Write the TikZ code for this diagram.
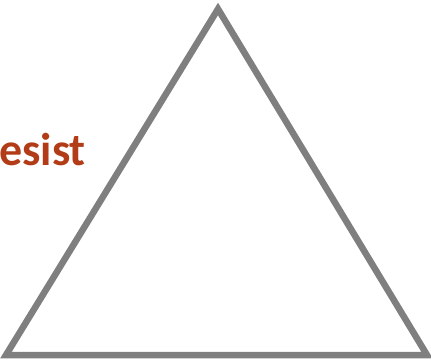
\documentclass[tikz,border=0pt]{standalone}
\usepackage{fontspec}
\setmainfont{Carlito}
\definecolor{rust}{HTML}{B23C17}
\definecolor{edge}{HTML}{7F7F7F}
\begin{document}
\begin{tikzpicture}[x=1pt,y=-1pt]
\useasboundingbox (0,0) rectangle (431,361);
\draw[edge, line width=6.5pt, line join=miter] (6,355) -- (218,9) -- (427,355) -- cycle;
\node[anchor=base west, inner sep=0pt, text=rust, font=\fontsize{46}{50}\selectfont\bfseries] (label) at (-1,165) {esist};
\end{tikzpicture}
\end{document}
